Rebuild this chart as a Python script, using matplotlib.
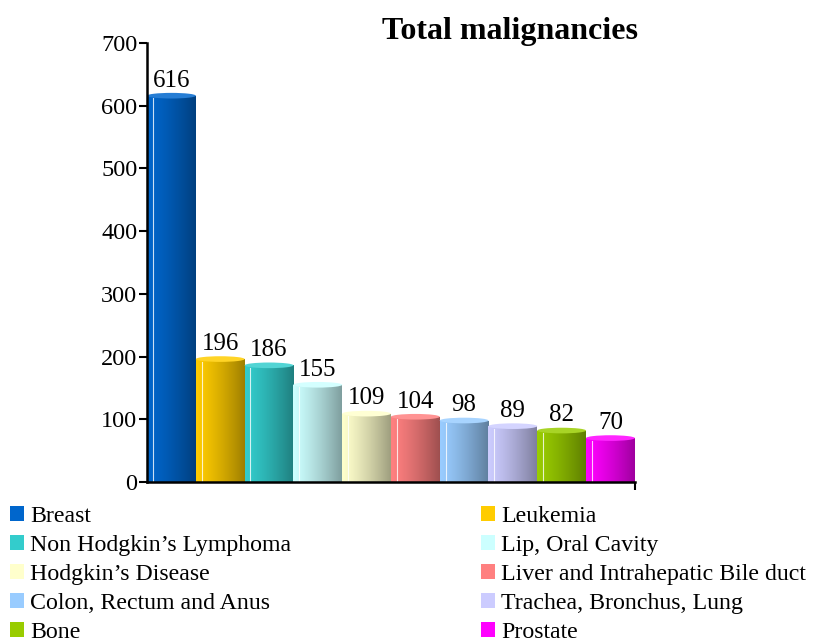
import numpy as np
import matplotlib.pyplot as plt
from matplotlib.patches import Ellipse, Patch
from matplotlib.colors import to_rgb

plt.rcParams['font.family'] = ['Liberation Serif', 'DejaVu Serif']

categories = ["Breast", "Leukemia", "Non Hodgkin\u2019s Lymphoma", "Lip, Oral Cavity",
              "Hodgkin\u2019s Disease", "Liver and Intrahepatic Bile duct",
              "Colon, Rectum and Anus", "Trachea, Bronchus, Lung", "Bone", "Prostate"]
values = [616, 196, 186, 155, 109, 104, 98, 89, 82, 70]
colors = ["#0066CC", "#FFCC00", "#33CCCC", "#CCFFFF", "#FFFFCC",
          "#FF8080", "#99CCFF", "#CCCCFF", "#99CC00", "#FF00FF"]
yticks = [0, 100, 200, 300, 400, 500, 600, 700]

fig = plt.figure(figsize=(8.17, 6.44), dpi=100)
ax = fig.add_axes([0.180, 0.2516, 0.597, 0.6816])

x = np.arange(len(values))
bars = ax.bar(x, values, width=1.0, color=colors, linewidth=0, zorder=2)

# cylinder shading: horizontal gradient clipped to each bar, plus an elliptical top
t = np.linspace(0, 1, 200)
for rect, c in zip(bars, colors):
    base = np.array(to_rgb(c))
    shade = 1.0 - 0.38 * t ** 1.3
    grad = np.clip(base[None, :] * shade[:, None], 0, 1)[None, :, :]
    x0, w, h = rect.get_x(), rect.get_width(), rect.get_height()
    im = ax.imshow(grad, extent=[x0, x0 + w, 0, h], aspect='auto', zorder=3,
                   interpolation='bilinear')
    im.set_clip_path(rect)
    ax.plot([x0 + 0.12 * w] * 2, [0, h - 4], color='white', lw=0.8, alpha=0.8, zorder=4)
    top = np.clip(base * 0.85 + 0.15, 0, 1)
    ax.add_patch(Ellipse((x0 + w / 2, h), w, 9, facecolor=top, edgecolor='none', zorder=4))
    ax.annotate(str(int(h)), (x0 + w / 2, h), xytext=(0, 3), textcoords='offset points',
                ha='center', va='bottom', fontsize=18, zorder=5)

ax.set_xlim(-0.5, len(values) - 0.5)
ax.set_ylim(0, 700)
ax.set_yticks(yticks)
ax.set_xticks([len(values) - 0.5])
ax.set_xticklabels([])
ax.tick_params(axis='y', direction='out', length=6, width=1.5, labelsize=17.5, pad=1)
ax.tick_params(axis='x', direction='out', length=6, width=1.5)
for s in ['top', 'right']:
    ax.spines[s].set_visible(False)
for s in ['left', 'bottom']:
    ax.spines[s].set_linewidth(1.8)
    ax.spines[s].set_zorder(6)

fig.text(0.624, 0.951, "Total malignancies", ha='center', va='center',
         fontsize=23, fontweight='bold')

handles = [Patch(facecolor=c, edgecolor='none') for c in colors]
order = list(range(0, 10, 2)) + list(range(1, 10, 2))
fig.legend([handles[i] for i in order], [categories[i] for i in order],
           loc='upper left', bbox_to_anchor=(0.0, 0.229), ncol=2, frameon=False,
           fontsize=17.2, handlelength=0.6, handleheight=0.6, handletextpad=0.25,
           labelspacing=0.33, columnspacing=7.95, borderaxespad=0.2, borderpad=0.2)

fig.savefig("out.png", dpi=100)
